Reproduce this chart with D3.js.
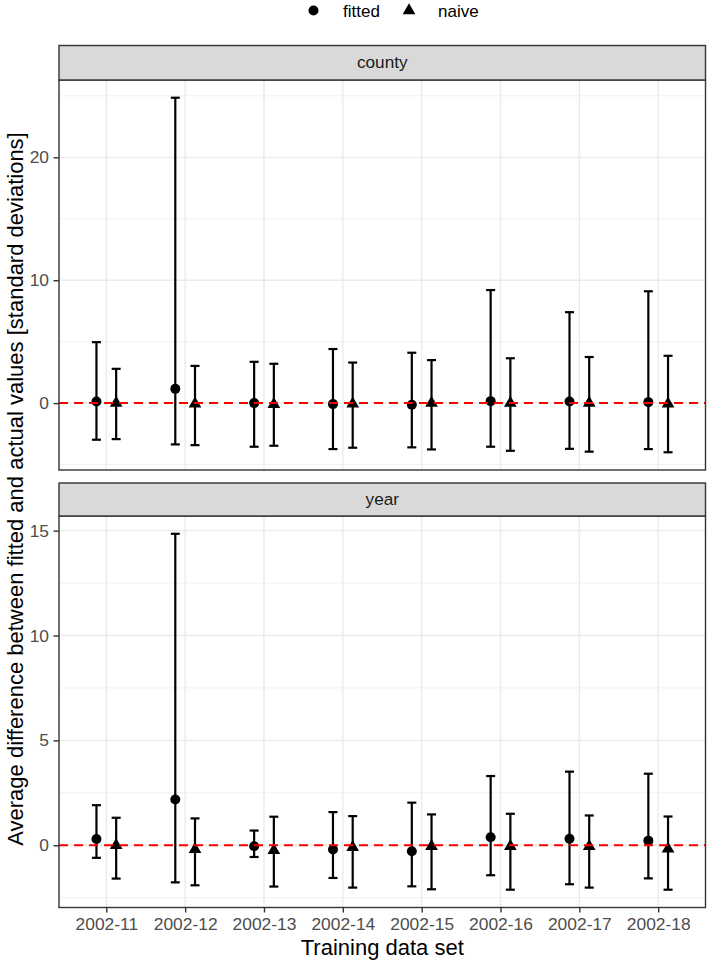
<!DOCTYPE html>
<html>
<head>
<meta charset="utf-8">
<script src="https://cdn.jsdelivr.net/npm/d3@7"></script>
<style>
    body { margin: 0; background: #fff; }
    svg { display: block; font-family: "Liberation Sans", Arial, sans-serif; }
</style>
</head>
<body>
<div id="chart"></div>
<script>
const categories = ["2002-11", "2002-12", "2002-13", "2002-14", "2002-15", "2002-16", "2002-17", "2002-18"];
const facets = ["county", "year"];
const series = ["fitted", "naive"];

const countyFitted   = [0.13, 1.16, 0.0, -0.08, -0.14, 0.16, 0.13, 0.08];
const countyFittedLo = [-2.98, -3.36, -3.55, -3.74, -3.6, -3.55, -3.72, -3.74];
const countyFittedHi = [4.96, 24.85, 3.36, 4.4, 4.1, 9.2, 7.4, 9.1];
const countyNaive    = [0.0, -0.05, -0.1, -0.05, 0.0, 0.0, 0.0, -0.05];
const countyNaiveLo  = [-2.93, -3.42, -3.47, -3.63, -3.77, -3.88, -3.95, -4.0];
const countyNaiveHi  = [2.79, 3.03, 3.2, 3.3, 3.5, 3.65, 3.75, 3.85];

const yearFitted   = [0.3, 2.18, -0.05, -0.2, -0.29, 0.38, 0.31, 0.22];
const yearFittedLo = [-0.6, -1.77, -0.56, -1.56, -1.96, -1.43, -1.86, -1.58];
const yearFittedHi = [1.91, 14.85, 0.7, 1.58, 2.03, 3.3, 3.51, 3.41];
const yearNaive    = [0.0, -0.2, -0.24, -0.1, -0.05, -0.05, -0.05, -0.17];
const yearNaiveLo  = [-1.59, -1.91, -1.97, -2.02, -2.1, -2.12, -2.02, -2.12];
const yearNaiveHi  = [1.31, 1.28, 1.36, 1.39, 1.47, 1.5, 1.42, 1.37];

const countyTicks = [0, 10, 20];
const yearTicks = [0, 5, 10, 15];

function rows(mid, lo, hi, s) {
    return categories.map((c, i) => ({cat: c, series: s, y: mid[i], lo: lo[i], hi: hi[i]}));
}

const panelData = {
    county: rows(countyFitted, countyFittedLo, countyFittedHi, "fitted")
        .concat(rows(countyNaive, countyNaiveLo, countyNaiveHi, "naive")),
    year: rows(yearFitted, yearFittedLo, yearFittedHi, "fitted")
        .concat(rows(yearNaive, yearNaiveLo, yearNaiveHi, "naive"))
};
const panelTicks = {county: countyTicks, year: yearTicks};

const width = 709, height = 964;
const left = 59, right = 705.5;
const panels = [
    {name: "county", stripTop: 45.5, top: 80, bottom: 470},
    {name: "year", stripTop: 483, top: 516, bottom: 907.5}
];
const tickFont = 17.4;

const svg = d3.select("#chart").append("svg")
    .attr("width", width)
    .attr("height", height);

const x = d3.scalePoint()
    .domain(categories)
    .range([left, right])
    .padding(0.6);
const dodge = d3.scalePoint()
    .domain(series)
    .range([-x.step() * 0.125, x.step() * 0.125]);

const triangle = d3.symbol().type(d3.symbolTriangle).size(70);

panels.forEach(p => {
    const data = panelData[p.name];
    const lo = d3.min(data, d => d.lo), hi = d3.max(data, d => d.hi);
    const pad = (hi - lo) * 0.05;
    const y = d3.scaleLinear().domain([lo - pad, hi + pad]).range([p.bottom, p.top]);

    const g = svg.append("g");

    g.append("rect")
        .attr("x", left).attr("y", p.top)
        .attr("width", right - left).attr("height", p.bottom - p.top)
        .attr("fill", "#fff");

    // minor grid
    const ticks = panelTicks[p.name];
    const stepV = ticks[1] - ticks[0];
    const minor = d3.range(ticks[0] - stepV / 2, hi + pad, stepV).filter(v => v > lo - pad);
    g.selectAll(".minor").data(minor).enter().append("line")
        .attr("x1", left).attr("x2", right)
        .attr("y1", d => y(d)).attr("y2", d => y(d))
        .attr("stroke", "#ebebeb").attr("stroke-width", 0.7);

    g.selectAll(".major").data(ticks).enter().append("line")
        .attr("x1", left).attr("x2", right)
        .attr("y1", d => y(d)).attr("y2", d => y(d))
        .attr("stroke", "#ebebeb").attr("stroke-width", 1.4);

    g.selectAll(".vgrid").data(categories).enter().append("line")
        .attr("x1", d => x(d)).attr("x2", d => x(d))
        .attr("y1", p.top).attr("y2", p.bottom)
        .attr("stroke", "#ebebeb").attr("stroke-width", 1.4);

    const bars = g.selectAll(".bar").data(data).enter().append("g")
        .attr("transform", d => "translate(" + (x(d.cat) + dodge(d.series)) + ",0)");
    bars.append("line")
        .attr("y1", d => y(d.lo)).attr("y2", d => y(d.hi))
        .attr("stroke", "#000").attr("stroke-width", 2.2);
    bars.append("line")
        .attr("x1", -4.5).attr("x2", 4.5)
        .attr("y1", d => y(d.hi)).attr("y2", d => y(d.hi))
        .attr("stroke", "#000").attr("stroke-width", 2.2);
    bars.append("line")
        .attr("x1", -4.5).attr("x2", 4.5)
        .attr("y1", d => y(d.lo)).attr("y2", d => y(d.lo))
        .attr("stroke", "#000").attr("stroke-width", 2.2);

    bars.filter(d => d.series === "fitted").append("circle")
        .attr("cy", d => y(d.y)).attr("r", 5).attr("fill", "#000");
    bars.filter(d => d.series === "naive").append("path")
        .attr("d", triangle)
        .attr("transform", d => "translate(0," + y(d.y) + ")")
        .attr("fill", "#000");

    g.append("line")
        .attr("x1", left).attr("x2", right)
        .attr("y1", y(0)).attr("y2", y(0))
        .attr("stroke", "#ff0000").attr("stroke-width", 2)
        .attr("stroke-dasharray", "9,6");

    g.append("rect")
        .attr("x", left).attr("y", p.top)
        .attr("width", right - left).attr("height", p.bottom - p.top)
        .attr("fill", "none").attr("stroke", "#333").attr("stroke-width", 1.4);

    g.append("rect")
        .attr("x", left).attr("y", p.stripTop)
        .attr("width", right - left).attr("height", p.top - p.stripTop)
        .attr("fill", "#d9d9d9").attr("stroke", "#333").attr("stroke-width", 1.4);
    g.append("text")
        .attr("x", (left + right) / 2).attr("y", (p.stripTop + p.top) / 2 + 5.5)
        .attr("text-anchor", "middle")
        .attr("font-size", 17.2).attr("fill", "#1a1a1a")
        .text(p.name);

    const yAxis = g.append("g")
        .attr("transform", "translate(" + left + ",0)")
        .call(d3.axisLeft(y).tickValues(ticks).tickSize(5.5).tickPadding(4.5));
    yAxis.select(".domain").remove();
    yAxis.selectAll(".tick line").attr("stroke", "#333").attr("stroke-width", 1.4);
    yAxis.selectAll(".tick text")
        .attr("font-size", tickFont).attr("fill", "#4d4d4d")
        .attr("font-family", "Liberation Sans, Arial, sans-serif");

    if (p.name === "year") {
        const xAxis = g.append("g")
            .attr("transform", "translate(0," + p.bottom + ")")
            .call(d3.axisBottom(x).tickSize(5).tickPadding(5.5));
        xAxis.select(".domain").remove();
        xAxis.selectAll(".tick line").attr("stroke", "#333").attr("stroke-width", 1.4);
        xAxis.selectAll(".tick text")
            .attr("font-size", tickFont).attr("fill", "#4d4d4d")
            .attr("font-family", "Liberation Sans, Arial, sans-serif");
    }
});

svg.append("text")
    .attr("x", (left + right) / 2).attr("y", 955)
    .attr("text-anchor", "middle")
    .attr("font-size", 22).attr("fill", "#000")
    .text("Training data set");

svg.append("text")
    .attr("transform", "translate(22.5,489) rotate(-90)")
    .attr("text-anchor", "middle")
    .attr("font-size", 22).attr("fill", "#000")
    .text("Average difference between fitted and actual values [standard deviations]");

// legend
const legend = svg.append("g");
legend.append("circle").attr("cx", 313.5).attr("cy", 10.5).attr("r", 5).attr("fill", "#000");
legend.append("text").attr("x", 343).attr("y", 16.5).attr("font-size", 17).text("fitted");
legend.append("path").attr("d", triangle).attr("transform", "translate(409,10.5)").attr("fill", "#000");
legend.append("text").attr("x", 438).attr("y", 16.5).attr("font-size", 17).text("naive");
</script>
</body>
</html>
